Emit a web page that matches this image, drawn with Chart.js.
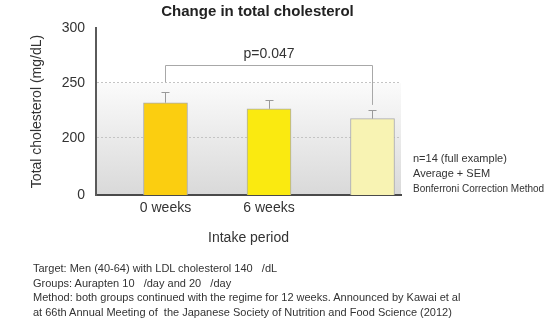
<!DOCTYPE html>
<html>
<head>
<meta charset="utf-8">
<script src="https://cdn.jsdelivr.net/npm/chart.js@4/dist/chart.umd.min.js"></script>
<style>
  html, body { margin: 0; padding: 0; background: #fff; }
  #wrap { position: relative; width: 548px; height: 328px; font-family: "Liberation Sans", Arial, sans-serif; color: #333; }
  #chart { position: absolute; left: 0; top: 0; }
  .title { position: absolute; left: 0; top: 2px; width: 515px; text-align: center; font-size: 15px; font-weight: bold; line-height: 18px; color: #222; }
  .notes { position: absolute; left: 413px; top: 151px; font-size: 11px; line-height: 15px; white-space: pre; }
  .notes .small { font-size: 10px; }
  .footer { position: absolute; left: 33px; top: 261px; font-size: 11px; line-height: 14.7px; white-space: pre; }
</style>
</head>
<body>
<div id="wrap">
  <canvas id="chart" width="548" height="328"></canvas>
  <div class="title">Change in total cholesterol</div>
  <div class="notes">n=14 (full example)
Average + SEM
<span class="small">Bonferroni Correction Method</span></div>
  <div class="footer">Target: Men (40-64) with LDL cholesterol 140   /dL
Groups: Aurapten 10   /day and 20   /day
Method: both groups continued with the regime for 12 weeks. Announced by Kawai et al
at 66th Annual Meeting of  the Japanese Society of Nutrition and Food Science (2012)</div>
</div>
<script>
  // data
  const periods = ["0 weeks", "6 weeks", ""];
  const means = [232, 226.5, 217.5];
  const sems = [9.5, 8, 7.5];
  const barColors = ["#fbce10", "#faea10", "#f8f3b3"];

  // broken y axis: the bottom of the axis is labelled 0
  const axisFloor = 148;
  const yTickValues = [axisFloor, 200, 250, 300];
  const yTickLabels = ["0", "200", "250", "300"];
  const gridValues = [200, 250];

  // significance bracket between first and last bar
  const bracketFrom = 0;
  const bracketTo = 2;
  const bracketTop = 266.5;
  const bracketLeftEnd = 250.7;
  const bracketRightEnd = 230;
  const pText = "p=0.047";

  const FONT = "'Liberation Sans', Arial, sans-serif";

  const backdrop = {
    id: "backdrop",
    beforeDraw(chart) {
      const { ctx, chartArea: a, scales: { y } } = chart;
      const top = y.getPixelForValue(250);
      const g = ctx.createLinearGradient(0, top, 0, a.bottom);
      g.addColorStop(0, "#fbfbfb");
      g.addColorStop(1, "#d9d9d9");
      ctx.save();
      ctx.fillStyle = g;
      ctx.fillRect(a.left, top, a.right - a.left, a.bottom - top);
      ctx.restore();
    },
  };

  const extras = {
    id: "extras",
    afterDatasetsDraw(chart) {
      const { ctx, scales: { x, y } } = chart;
      ctx.save();
      ctx.strokeStyle = "#999";
      ctx.lineWidth = 1;
      means.forEach((m, i) => {
        const px = Math.round(x.getPixelForValue(i)) + 0.5;
        const y0 = y.getPixelForValue(m);
        const y1 = Math.round(y.getPixelForValue(m + sems[i])) + 0.5;
        ctx.beginPath();
        ctx.moveTo(px, y0);
        ctx.lineTo(px, y1);
        ctx.moveTo(px - 4, y1);
        ctx.lineTo(px + 4, y1);
        ctx.stroke();
      });

      const xl = Math.round(x.getPixelForValue(bracketFrom)) + 0.5;
      const xr = Math.round(x.getPixelForValue(bracketTo)) + 0.5;
      const yt = Math.round(y.getPixelForValue(bracketTop)) + 0.5;
      ctx.strokeStyle = "#a8a8a8";
      ctx.beginPath();
      ctx.moveTo(xl, y.getPixelForValue(bracketLeftEnd));
      ctx.lineTo(xl, yt);
      ctx.lineTo(xr, yt);
      ctx.lineTo(xr, y.getPixelForValue(bracketRightEnd));
      ctx.stroke();

      ctx.fillStyle = "#333";
      ctx.font = "14px " + FONT;
      ctx.textAlign = "center";
      ctx.textBaseline = "middle";
      ctx.fillText(pText, (xl + xr) / 2, yt - 11);
      ctx.restore();
    },
  };

  new Chart(document.getElementById("chart"), {
    type: "bar",
    data: {
      datasets: [{
        data: means.map((v, i) => ({ x: i, y: v })),
        backgroundColor: barColors,
        borderColor: "#acacac",
        borderWidth: 1,
        barThickness: 44,
      }],
    },
    options: {
      responsive: false,
      animation: false,
      layout: { padding: { top: 28, right: 147, bottom: 81, left: 0 } },
      plugins: {
        legend: { display: false },
        tooltip: { enabled: false },
      },
      scales: {
        x: {
          type: "linear",
          min: -0.6715,
          max: 2.2754,
          offset: false,
          afterBuildTicks: (s) => { s.ticks = periods.map((_, i) => ({ value: i })); },
          afterFit: (s) => { s.height = 52; },
          ticks: {
            callback: (v) => periods[v] ?? "",
            autoSkip: false,
            maxRotation: 0,
            padding: 5,
            color: "#333",
            font: { family: FONT, size: 14 },
          },
          grid: { display: false, drawTicks: false },
          border: { display: true, color: "#4a4a4a", width: 2 },
          title: {
            display: true,
            text: "Intake period",
            color: "#333",
            font: { family: FONT, size: 14 },
            padding: { top: 0, bottom: 0 },
          },
        },
        y: {
          min: axisFloor,
          max: 300,
          afterBuildTicks: (s) => { s.ticks = yTickValues.map((v) => ({ value: v })); },
          afterFit: (s) => { s.width = 96; },
          ticks: {
            callback: (v) => yTickLabels[yTickValues.indexOf(v)],
            padding: 11,
            color: "#333",
            font: { family: FONT, size: 14 },
          },
          grid: {
            drawTicks: false,
            color: (c) => gridValues.includes(c.tick && c.tick.value) ? "#c4c4c4" : "rgba(0,0,0,0)",
          },
          border: { display: true, color: "#5a5a5a", width: 2, dash: [2, 2] },
          title: {
            display: true,
            text: "Total cholesterol (mg/dL)",
            color: "#333",
            font: { family: FONT, size: 14 },
            padding: { top: 29, bottom: 0 },
          },
        },
      },
    },
    plugins: [backdrop, extras],
  });
</script>
</body>
</html>
